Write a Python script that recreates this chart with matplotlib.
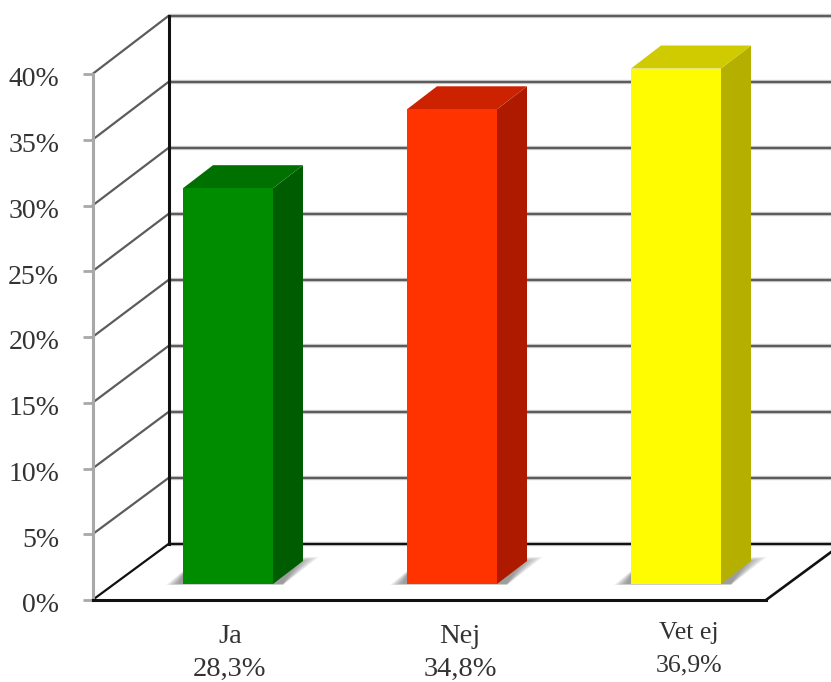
"""Vote poll: 3D-looking column chart drawn on a plain matplotlib axes."""
import matplotlib
matplotlib.use("Agg")
import matplotlib.pyplot as plt
from matplotlib.patches import Polygon
from matplotlib.transforms import ScaledTranslation

categories = ["Ja", "Nej", "Vet ej"]
shares = ["28,3%", "34,8%", "36,9%"]
bar_heights = [30.1, 36.1, 39.2]  # as read off the drawn axis, not the labels
y_ticks = [0, 5, 10, 15, 20, 25, 30, 35, 40]
y_labels = ["0%", "5%", "10%", "15%", "20%", "25%", "30%", "35%", "40%"]
face_colors = ["#008c00", "#ff3300", "#fffb00"]
top_colors = ["#007000", "#cc2200", "#cfcb00"]
side_colors = ["#005c00", "#ad1a00", "#b5b000"]

W, H = 831, 682
PX_X = 224.0       # pixels per category
PX_Y = 526 / 40    # pixels per percent
wall_dx, wall_dy = 76 / PX_X, 56 / PX_Y
wall_scale = 1.004  # back wall is a touch taller than the front axis
bar_dx, bar_dy = 30 / PX_X, 23 / PX_Y
bar_w = 90 / PX_X
base = 16 / PX_Y   # bars stand a bit in front of the floor edge
serif = "Liberation Serif"
text_col = "#333333"

fig = plt.figure(figsize=(W / 100, H / 100), dpi=100)
ax = fig.add_axes([92.5 / W, (H - 600) / H, 673.5 / W, 526 / H])
ax.set_xlim(-135.5 / PX_X, 538 / PX_X)
ax.set_ylim(0, 40)
ax.patch.set_visible(False)

for s in ["top", "right"]:
    ax.spines[s].set_visible(False)
ax.spines["left"].set_color("#a8a8a8")
ax.spines["left"].set_linewidth(2.2)
ax.spines["bottom"].set_color("#111111")
ax.spines["bottom"].set_linewidth(2.2)
ax.set_xticks([])
ax.set_yticks(y_ticks)
ax.set_yticklabels(y_labels, family=serif, fontsize=20, color=text_col)
ax.tick_params(axis="y", length=7, width=2, color="#a8a8a8", pad=17)
# tick labels sit a little below their ticks in the original
down = ScaledTranslation(0, -2 / 72, fig.dpi_scale_trans)
for lab in ax.get_yticklabels():
    lab.set_transform(lab.get_transform() + down)

x0, x1 = ax.get_xlim()

# back wall and side wall, with a pale halo so the lines look soft
for v in y_ticks:
    col = "#111111" if v == 0 else "#5c5c5c"
    wy = wall_dy + v * wall_scale
    ax.plot([x0 + wall_dx, x1 + wall_dx], [wy, wy], color="#d8d8d8",
            lw=3.2, clip_on=False, zorder=0.8, solid_capstyle="butt")
    ax.plot([x0 + wall_dx, x1 + wall_dx], [wy, wy], color=col,
            lw=1.7, clip_on=False, zorder=1, solid_capstyle="butt")
    ax.plot([x0, x0 + wall_dx], [v, wy], color=col,
            lw=1.6, clip_on=False, zorder=1)
ax.plot([x0 + wall_dx, x0 + wall_dx], [wall_dy, 40 * wall_scale + wall_dy], color="#111111",
        lw=2.2, clip_on=False, zorder=1.5)
ax.plot([x1, x1 + wall_dx], [0, wall_dy], color="#111111", lw=1.9,
        clip_on=False, zorder=1)

# soft floor shadows
for i in range(len(categories)):
    left = i - bar_w / 2
    for g in range(0, 14):
        pts = [(-17 + g, 1 - g * 0.1), (100, 1 - g * 0.1), (136 - g * 1.6, -27 + g * 0.4),
               (30, -27 + g * 0.4), (0, -13 + g * 0.3)]
        ax.add_patch(Polygon([(left + px / PX_X, base - py / PX_Y) for px, py in pts],
                             closed=True, fc="#555555", ec="none", alpha=0.055,
                             clip_on=False, zorder=2))

# columns: front face through bar, side and top as polygons
for i, h in enumerate(bar_heights):
    ax.bar(i, h, width=bar_w, bottom=base, color=face_colors[i], clip_on=False, zorder=4)
    l, r = i - bar_w / 2, i + bar_w / 2
    top = base + h
    ax.add_patch(Polygon([(r, base), (r + bar_dx, base + bar_dy), (r + bar_dx, top + bar_dy), (r, top)],
                         closed=True, fc=side_colors[i], ec="none", clip_on=False, zorder=3))
    ax.add_patch(Polygon([(l, top), (r, top), (r + bar_dx, top + bar_dy), (l + bar_dx, top + bar_dy)],
                         closed=True, fc=top_colors[i], ec="none", clip_on=False, zorder=3))

# category labels drift right of their bars in the original
label_offset = [2, 8, 13]
label_size = [20.5, 20.5, 18.5]
name_y = [-2.75, -2.75, -2.5]
share_y = [-5.25, -5.25, -4.95]
for i, name in enumerate(categories):
    xpos = i + label_offset[i] / PX_X
    ax.text(xpos, name_y[i], name, ha="center", va="center", family=serif,
            fontsize=label_size[i], color=text_col, clip_on=False)
    ax.text(xpos, share_y[i], shares[i], ha="center", va="center", family=serif,
            fontsize=label_size[i], color=text_col, clip_on=False)

plt.savefig("out.png", dpi=100)
print("Saved: out.png")
